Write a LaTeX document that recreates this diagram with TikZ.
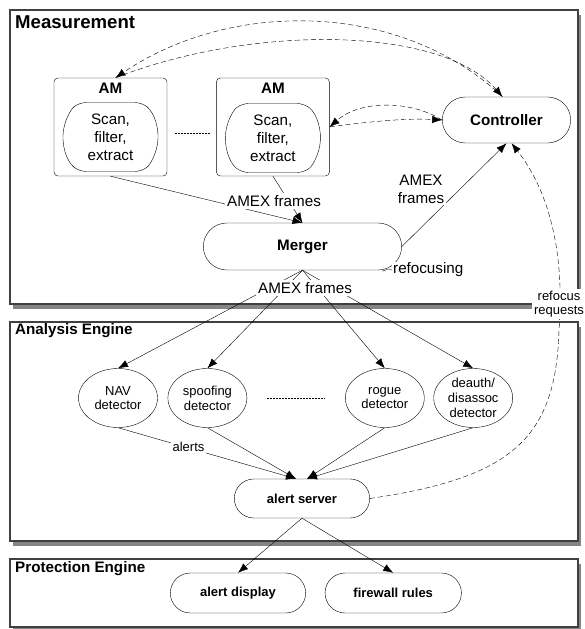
\documentclass[tikz,border=0pt]{standalone}
\usepackage{fontspec}
\setmainfont{Liberation Sans}
\usetikzlibrary{positioning, shapes.misc, shapes.geometric, arrows.meta, shadows, calc}
\newcommand\fbig{\fontsize{18.6}{22}\selectfont\bfseries}
\newcommand\fmid{\fontsize{15.2}{18}\selectfont}
\newcommand\fsmall{\fontsize{13}{14.7}\selectfont}
\tikzset{
x=1pt, y=-1pt, % one unit is one pixel of the sketch, y grows downwards
>={Latex[length=10pt,width=7.5pt]}, % filled arrow heads
line width=1pt,
panel/.style={draw=black!75, line width=1.4pt, fill=white,
  drop shadow={shadow xshift=3pt, shadow yshift=-5pt, fill=black!80, opacity=.6}},
paneltitle/.style={anchor=west, inner sep=0pt, font=\fbig},
ambox/.style={draw, rounded corners=4pt, minimum width=113pt, minimum height=98pt},
scan/.style={draw, rounded rectangle, rounded rectangle arc length=100, rounded corners=7pt, minimum width=95pt, minimum height=69pt, inner sep=0pt, align=center, font=\fmid},
pill/.style={draw, rounded rectangle, font=\fmid\bfseries}, % controller, merger, ...
smallpill/.style={pill, font=\fsmall\bfseries, minimum width=142pt, minimum height=40pt},
detector/.style={draw, ellipse, minimum width=79pt, minimum height=59pt, inner sep=-3pt, align=center, font=\fsmall},
flow/.style={draw, ->},
ctl/.style={dash pattern=on 5pt off 3pt}, % control traffic
dots/.style={dash pattern=on 2pt off 1pt},
lbl/.style={fill=white, inner sep=2pt, font=\fmid},
}
\begin{document}
\begin{tikzpicture}
  \useasboundingbox (0,0) rectangle (584,629);
  % the three engines
  \draw[panel] (10,10) rectangle (578,304);
  \draw[panel] (10,322) rectangle (578,541);
  \draw[panel] (10,559) rectangle (578,627);
  \node[paneltitle] at (15,21.7) {Measurement};
  \node[paneltitle, font=\fmid\bfseries] at (15,331) {Analysis Engine};
  \node[paneltitle, font=\fmid\bfseries] at (15,569) {Protection Engine};

  % measurement
  \node[ambox] (am1) at (110.5,127) {};
  \node[ambox, right=49pt of am1] (am2) {};
  \node[font=\fmid\bfseries] at ($(am1.north)+(0,10)$) {AM};
  \node[font=\fmid\bfseries] at ($(am2.north)+(0,10)$) {AM};
  \node[scan] (scan1) at ($(am1)+(0,10)$) {Scan,\\filter,\\extract};
  \node[scan] (scan2) at ($(am2)+(0,11)$) {Scan,\\filter,\\extract};
  \draw[dots] ($(am1.east)+(8,6)$) -- ($(am2.west)+(-5,6)$);
  \node[pill, minimum width=135pt, minimum height=46pt] (ctrl) at (506.5,120) {Controller};
  \node[pill, minimum width=205pt, minimum height=47pt] (merger) at (302.5,246.5) {Merger};

  \path (am1.south) edge[flow] (merger.north)
        (am2.south) edge[flow] (merger.north)
        (merger.east) edge[flow] (ctrl.south);
  \node[lbl] at (274,201) {AMEX frames};
  \node[lbl, align=center] at (421,189) {AMEX\\frames};
  \node[lbl, anchor=west, inner sep=1pt] (refoc) at (392,270) {refocusing};
  \draw (refoc.west) .. controls +(-4,-1) and +(3,-2) .. ($(merger.south)+(80,1)$);

  \draw[ctl, ->] ($(ctrl.north)+(-4,0)$) .. controls (400,0) and (230,0) .. ($(am1.north)+(5,0)$);
  \draw[ctl, ->] ($(am1.north)+(5,0)$) .. controls (250,25) and (440,25) .. ($(ctrl.north)+(-4,0)$);
  \draw[ctl, ->] (ctrl.west) .. controls (410,100) and (360,100) .. (am2.east);
  \draw[ctl, ->] (am2.east) .. controls (365,122) and (405,118) .. (ctrl.west);

  % analysis
  \node[detector] (nav) at (118,398) {NAV\\detector};
  \node[detector, right=10pt of nav] (spoof) {spoofing\\detector};
  \node[detector, right=98pt of spoof] (rogue) {rogue\\detector};
  \node[detector, right=9pt of rogue] (deauth) {deauth/\\disassoc\\detector};
  \draw[dots] ([xshift=20pt]spoof.east) -- ([xshift=-20pt]rogue.west);
  \path (merger.south) edge[flow] (nav.north)
        (merger.south) edge[flow] (spoof.north)
        (merger.south) edge[flow] (rogue.north)
        (merger.south) edge[flow] (deauth.north);
  \node[lbl] at (305,288) {AMEX frames};

  \node[smallpill, minimum height=39pt] (alertsrv) at (302,498.5) {alert server};
  \path (nav.south) edge[flow] ([xshift=-6pt]alertsrv.north)
        (spoof.south) edge[flow] ([xshift=-6pt]alertsrv.north)
        (rogue.south) edge[flow] ([xshift=5pt]alertsrv.north)
        (deauth.south) edge[flow] ([xshift=5pt]alertsrv.north);
  \node[lbl, font=\fsmall] at (188.5,447) {alerts};

  \draw[ctl, ->] (alertsrv.east) .. controls (510,478) and (556,440) .. (559,330)
     .. controls (565,250) and (548,190) .. ($(ctrl.south)+(5,0)$);
  \node[lbl, font=\fsmall, align=center] at (559,304) {refocus\\requests};

  % protection
  \node[smallpill] (display) at (238,593) {alert display};
  \node[smallpill, minimum width=143pt, right=19pt of display] (firewall) {firewall rules};
  \path (alertsrv.south) edge[flow] (display.north)
        (alertsrv.south) edge[flow] (firewall.north);
\end{tikzpicture}
\end{document}
